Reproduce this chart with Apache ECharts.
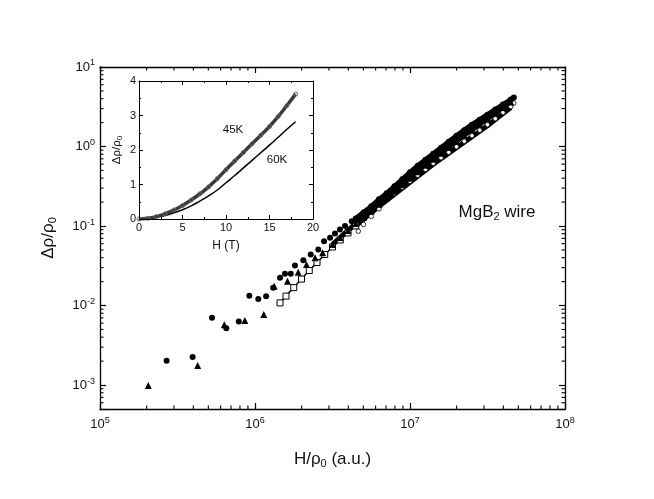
<!DOCTYPE html>
<html><head><meta charset="utf-8">
<script src="https://cdn.jsdelivr.net/npm/echarts@6/dist/echarts.min.js"></script>
<style>html,body{margin:0;padding:0;background:#fff}#c{width:654px;height:499px}</style>
</head><body><div id="c"></div>
<script>
// ---------------- data ----------------
// main plot: [H/rho0 (a.u.), drho/rho0]
const filledCirclesSparse = [[2.69e5,2.02e-3],[3.96e5,2.25e-3],[5.28e5,7.0e-3],[6.53e5,5.2e-3],[7.86e5,6.3e-3],[9.19e5,1.33e-2],[1.05e6,1.21e-2],[1.18e6,1.31e-2],[1.31e6,1.67e-2],[1.45e6,2.23e-2],[1.56e6,2.52e-2],[1.70e6,2.52e-2],[1.81e6,3.18e-2],[2.05e6,3.71e-2],[2.29e6,4.38e-2],[2.56e6,5.07e-2],[2.79e6,6.45e-2],[3.05e6,7.11e-2],[3.28e6,8.07e-2],[3.53e6,9.06e-2],[3.81e6,9.98e-2],[4.21e6,0.115]];
const filledCirclesDense = [[4.467e6,0.1247],[5.012e6,0.1484],[5.623e6,0.1767],[6.310e6,0.2164],[7.079e6,0.2577],[7.943e6,0.3158],[8.913e6,0.3869],[1e7,0.4740],[1.122e7,0.5727],[1.259e7,0.6818],[1.413e7,0.8115],[1.585e7,0.9658],[1.778e7,1.1496],[1.995e7,1.3684],[2.239e7,1.6057],[2.512e7,1.8832],[2.818e7,2.1777],[3.162e7,2.5177],[3.548e7,2.9113],[3.981e7,3.3665],[4.467e7,3.8921],[4.677e7,4.1250]];
const trianglesSparse = [[2.05e5,9.9e-4],[4.27e5,1.76e-3],[6.34e5,5.74e-3],[8.6e5,6.5e-3],[1.14e6,7.7e-3],[1.33e6,1.75e-2],[1.62e6,2.02e-2],[1.9e6,2.62e-2],[2.15e6,3.28e-2],[2.44e6,3.98e-2],[2.73e6,4.6e-2]];
const trianglesDense = [[3.162e6,0.0586],[3.548e6,0.0718],[3.981e6,0.0880],[4.467e6,0.1078],[5.012e6,0.1284],[5.623e6,0.1550],[6.310e6,0.1873],[7.079e6,0.2262],[7.943e6,0.2731],[8.913e6,0.3298],[1e7,0.3984],[1.122e7,0.4812],[1.259e7,0.5809],[1.413e7,0.6915],[1.585e7,0.8233],[1.778e7,0.9799],[1.995e7,1.1664],[2.239e7,1.3880],[2.512e7,1.6284],[2.818e7,1.9107],[3.162e7,2.2416],[3.548e7,2.6301],[3.981e7,3.0850],[4.467e7,3.6197]];
const openSquaresSparse = [[1.45e6,0.0108],[1.585e6,0.01314],[1.778e6,0.01681],[1.995e6,0.02152],[2.239e6,0.02755],[2.512e6,0.03475],[2.818e6,0.04384],[3.162e6,0.05450],[3.548e6,0.06679],[3.981e6,0.08185],[4.467e6,0.1003]];
const openSquaresDense = [[5.012e6,0.1211],[5.623e6,0.1463],[6.310e6,0.1767],[7.079e6,0.2103],[7.943e6,0.2503],[8.913e6,0.2979],[1e7,0.3547],[1.122e7,0.4221],[1.259e7,0.5025],[1.413e7,0.5980],[1.585e7,0.7017],[1.778e7,0.8233],[1.995e7,0.9658],[2.239e7,1.1330],[2.512e7,1.3291],[2.818e7,1.5594],[3.162e7,1.8296],[3.548e7,2.1777],[3.981e7,2.5925],[4.467e7,3.0850]];
const openCircles = [[4.64e6,0.0862],[5.012e6,0.1047],[5.623e6,0.1322],[6.310e6,0.1643],[7.079e6,0.2164],[7.943e6,0.2577],[8.913e6,0.3067],[1e7,0.3650],[1.122e7,0.4346],[1.259e7,0.5173],[1.413e7,0.6158],[1.585e7,0.7225],[1.778e7,0.8474],[1.995e7,0.9942],[2.239e7,1.1664],[2.512e7,1.3684],[2.818e7,1.6057],[3.162e7,1.8832],[3.548e7,2.2416],[3.981e7,2.6684],[4.467e7,3.1762],[4.677e7,3.5156]];
// inset: H (T) vs drho/rho0
const insetH   = [0,1,2,3,4,5,6,7,8,9,10,11,12,13,14,15,16,17,18];
const inset45K = [0,0.02,0.07,0.15,0.26,0.39,0.55,0.73,0.93,1.17,1.43,1.68,1.93,2.18,2.43,2.68,2.97,3.29,3.62];
const inset60K = [0,0.015,0.05,0.10,0.18,0.27,0.38,0.52,0.67,0.84,1.05,1.26,1.48,1.70,1.92,2.14,2.37,2.60,2.82];
// tick labels / tick positions
const xMajorTicks = [1e5,1e6,1e7,1e8];
const yMajorTicks = [1e-3,1e-2,1e-1,1,10];
const xMinorTicks = [];
[1e5,1e6,1e7].forEach(d => { for (let k=2;k<=9;k++) xMinorTicks.push(k*d); });
const yMinorTicks = [6e-4,7e-4,8e-4,9e-4];
[1e-3,1e-2,1e-1,1].forEach(d => { for (let k=2;k<=9;k++) yMinorTicks.push(k*d); });
const X_MIN = 1e5, X_MAX = 1e8, Y_MIN = 5e-4, Y_MAX = 10;

// ---------------- styling ----------------
const FONT = '"Liberation Sans", Arial, Helvetica, sans-serif';
const TXT = '#111';
const supRich = {
  b:{fontSize:13,fontFamily:FONT,color:TXT},
  s:{fontSize:9,fontFamily:FONT,color:TXT,padding:[0,0,8,0]}
};
function supLabel(v){ const e = Math.round(Math.log10(v)); return '{b|10}{s|' + e + '}'; }
const nameRich = {
  a:{fontSize:17,fontFamily:FONT,color:TXT},
  sub:{fontSize:11,fontFamily:FONT,color:TXT,padding:[9,0,0,0]}
};
const insetNameRich = {
  a:{fontSize:11.5,fontFamily:FONT,color:TXT},
  sub:{fontSize:8,fontFamily:FONT,color:TXT,padding:[6,0,0,0]}
};

function mainAxis(pos, showLabels, extra) {
  const isX = pos === 'top' || pos === 'bottom';
  return Object.assign({
    type:'log', logBase:10, gridIndex:0, position:pos,
    min:isX ? X_MIN : Y_MIN, max:isX ? X_MAX : Y_MAX,
    axisLine:{show:true,onZero:false,lineStyle:{color:'#000',width:1.3}},
    axisTick:{show:true,inside:true,length:6,lineStyle:{color:'#000',width:1.2}},
    axisLabel:{show:showLabels,customValues:isX ? xMajorTicks : yMajorTicks,formatter:supLabel,rich:supRich,margin:isX?7:5},
    splitLine:{show:false}, minorTick:{show:false}, minorSplitLine:{show:false}, z:5
  }, extra || {});
}
function insetAxis(pos, showLabels, extra) {
  const isX = pos === 'top' || pos === 'bottom';
  return Object.assign({
    type:'value', gridIndex:1, position:pos,
    min:0, max:isX?20:4, interval:isX?5:1,
    axisLine:{show:true,onZero:false,lineStyle:{color:'#000',width:1}},
    axisTick:{show:true,inside:true,length:4,lineStyle:{color:'#000',width:1}},
    minorTick:{show:true,splitNumber:2,length:2,lineStyle:{color:'#000',width:1}},
    axisLabel:{show:showLabels,fontSize:11,fontFamily:FONT,color:TXT,margin:3},
    splitLine:{show:false}, z:6
  }, extra || {});
}

const xAxes = [
  mainAxis('bottom', true, {name:'{a|H/ρ}{sub|0}{a| (a.u.)}', nameLocation:'middle', nameGap:40, nameTextStyle:{rich:nameRich}}),
  mainAxis('top', false),
  insetAxis('bottom', true, {name:'H (T)', nameLocation:'middle', nameGap:21, nameTextStyle:{fontSize:12,fontFamily:FONT,color:TXT}}),
  insetAxis('top', false)
];
const yAxes = [
  mainAxis('left', true, {name:'{a|Δρ/ρ}{sub|0}', nameLocation:'middle', nameGap:42, nameTextStyle:{rich:nameRich}}),
  mainAxis('right', false),
  insetAxis('left', true, {name:'{a|Δρ/ρ}{sub|0}', nameLocation:'middle', nameGap:15, nameTextStyle:{rich:insetNameRich}}),
  insetAxis('right', false)
];
// x: 0 main bottom, 1 main top, 2 inset bottom, 3 inset top
// y: 0 main left, 1 main right, 2 inset left, 3 inset right

// minor ticks of the log frame, placed through the log axes themselves
function minorTickSeries(data, size, offset) {
  return {type:'scatter', xAxisIndex:0, yAxisIndex:0, data:data, symbol:'rect',
    symbolSize:size, symbolOffset:offset, itemStyle:{color:'#000',opacity:1}, clip:false, silent:true, z:5};
}
const TL = 3.5, TW = 1.1;

const chart = echarts.init(document.getElementById('c'), null, {renderer:'canvas'});
chart.setOption({
  animation:false,
  backgroundColor:'#fff',
  grid:[
    {left:100, top:67, width:465, height:342, containLabel:false, outerBoundsMode:'none'},
    {left:139, top:81, width:174, height:138, containLabel:false, outerBoundsMode:'none',
     show:true, backgroundColor:'#fff', borderWidth:0, z:1}
  ],
  xAxis: xAxes,
  yAxis: yAxes,
  series:[
    minorTickSeries(xMinorTicks.map(v=>[v,Y_MIN]), [TW,TL], [0,-TL/2]),
    minorTickSeries(xMinorTicks.map(v=>[v,Y_MAX]), [TW,TL], [0, TL/2]),
    minorTickSeries(yMinorTicks.map(v=>[X_MIN,v]), [TL,TW], [ TL/2,0]),
    minorTickSeries(yMinorTicks.map(v=>[X_MAX,v]), [TL,TW], [-TL/2,0]),
    {type:'line', name:'open squares', xAxisIndex:0, yAxisIndex:0, data:openSquaresSparse,
     symbol:'rect', symbolSize:6, showSymbol:true,
     itemStyle:{color:'#fff',borderColor:'#000',borderWidth:1,opacity:1},
     lineStyle:{color:'#000',width:1.5}, z:2},
    {type:'line', name:'open squares band', xAxisIndex:0, yAxisIndex:0,
     data:openSquaresSparse.slice(-1).concat(openSquaresDense),
     symbol:'none', lineStyle:{color:'#000',width:5}, z:2},
    {type:'scatter', name:'open circles', xAxisIndex:0, yAxisIndex:0, data:openCircles,
     symbol:'circle', symbolSize:4.5, itemStyle:{color:'#fff',borderColor:'#000',borderWidth:0.8,opacity:1}, z:2},
    {type:'line', name:'band circles', xAxisIndex:0, yAxisIndex:0, data:filledCirclesDense,
     symbol:'none', lineStyle:{color:'#000',width:5}, z:2},
    {type:'line', name:'band triangles', xAxisIndex:0, yAxisIndex:0, data:trianglesDense,
     symbol:'none', lineStyle:{color:'#000',width:5}, z:2},
    {type:'scatter', name:'filled triangles', xAxisIndex:0, yAxisIndex:0,
     data:trianglesSparse.concat(trianglesDense),
     symbol:'triangle', symbolSize:7, itemStyle:{color:'#000',opacity:1}, z:2},
    {type:'scatter', name:'filled circles', xAxisIndex:0, yAxisIndex:0,
     data:filledCirclesSparse.concat(filledCirclesDense),
     symbol:'circle', symbolSize:6, itemStyle:{color:'#000',opacity:1}, z:2},
    {type:'line', name:'60K', xAxisIndex:2, yAxisIndex:2,
     data:insetH.map((h,i)=>[h,inset60K[i]]), symbol:'none', smooth:true,
     lineStyle:{color:'#000',width:1.5}, z:4},
    {type:'line', name:'45K', xAxisIndex:2, yAxisIndex:2,
     data:insetH.map((h,i)=>[h,inset45K[i]]), symbol:'circle', symbolSize:4, smooth:true,
     itemStyle:{color:'rgba(0,0,0,0)',borderColor:'#666',borderWidth:1},
     lineStyle:{color:'#3a3a3a',width:3.5}, z:4}
  ],
  graphic:[
    {type:'text', x:233, y:130, z:10, style:{text:'45K', font:'11.5px '+FONT, fill:TXT, align:'center', verticalAlign:'middle'}},
    {type:'text', x:277, y:160, z:10, style:{text:'60K', font:'11.5px '+FONT, fill:TXT, align:'center', verticalAlign:'middle'}},
    {type:'text', x:497, y:212, z:10, style:{text:'{a|MgB}{s|2}{a| wire}', align:'center', verticalAlign:'middle',
      rich:{a:{fontSize:17,fontFamily:FONT,fill:TXT}, s:{fontSize:11,fontFamily:FONT,fill:TXT,padding:[9,0,0,0]}}}}
  ]
});
</script></body></html>
